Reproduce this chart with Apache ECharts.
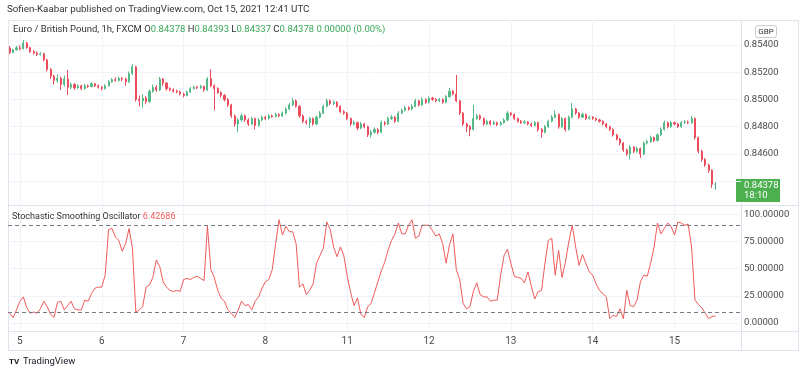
<!DOCTYPE html>
<html>
<head>
<meta charset="utf-8">
<script src="https://cdn.jsdelivr.net/npm/echarts@6.0.0/dist/echarts.min.js"></script>
<style>
html,body{margin:0;padding:0;background:#fff;}
#chart{width:800px;height:377px;}
</style>
</head>
<body>
<div id="chart"></div>
<script>
// EUR/GBP 1h, FXCM  -  bars from Oct 4 21:00 to Oct 15 12:00 UTC
var opens = [
  0.85378,0.85345,0.85365,0.85380,0.85372,0.85415,0.85380,0.85350,0.85340,0.85330,
  0.85335,0.85290,0.85220,0.85170,0.85140,0.85155,0.85110,0.85150,0.85090,0.85110,
  0.85085,0.85100,0.85080,0.85100,0.85095,0.85115,0.85100,0.85090,0.85080,0.85100,
  0.85130,0.85145,0.85140,0.85155,0.85150,0.85130,0.85190,0.85240,0.85000,0.84990,
  0.85010,0.84985,0.85060,0.85090,0.85070,0.85150,0.85120,0.85080,0.85070,0.85060,
  0.85055,0.85040,0.85030,0.85055,0.85080,0.85090,0.85085,0.85095,0.85070,0.85150,
  0.85100,0.85080,0.85050,0.85030,0.85000,0.84960,0.84880,0.84820,0.84850,0.84880,
  0.84850,0.84820,0.84860,0.84810,0.84850,0.84870,0.84860,0.84880,0.84875,0.84890,
  0.84880,0.84900,0.84930,0.84960,0.84990,0.84950,0.84880,0.84840,0.84830,0.84860,
  0.84820,0.84870,0.84900,0.84950,0.84990,0.84970,0.84980,0.84950,0.84910,0.84900,
  0.84860,0.84820,0.84830,0.84790,0.84820,0.84800,0.84740,0.84760,0.84780,0.84760,
  0.84830,0.84820,0.84860,0.84870,0.84840,0.84900,0.84920,0.84940,0.84930,0.84950,
  0.84990,0.84960,0.85000,0.84980,0.85010,0.85000,0.84990,0.85000,0.84980,0.85020,
  0.85060,0.85040,0.84990,0.84900,0.84820,0.84800,0.84780,0.84860,0.84880,0.84860,
  0.84820,0.84840,0.84820,0.84830,0.84815,0.84830,0.84850,0.84900,0.84890,0.84860,
  0.84840,0.84830,0.84835,0.84820,0.84810,0.84830,0.84780,0.84760,0.84800,0.84840,
  0.84870,0.84890,0.84800,0.84860,0.84780,0.84870,0.84930,0.84900,0.84870,0.84890,
  0.84860,0.84870,0.84860,0.84850,0.84840,0.84820,0.84800,0.84780,0.84740,0.84710,
  0.84680,0.84630,0.84600,0.84650,0.84620,0.84640,0.84600,0.84680,0.84690,0.84720,
  0.84700,0.84740,0.84780,0.84830,0.84800,0.84830,0.84820,0.84800,0.84830,0.84835,
  0.84830,0.84860,0.84720,0.84620,0.84560,0.84520,0.84480,0.84378
];
var closes = [
  0.85345,0.85365,0.85380,0.85372,0.85415,0.85380,0.85350,0.85340,0.85330,0.85335,
  0.85290,0.85220,0.85170,0.85140,0.85155,0.85110,0.85150,0.85090,0.85110,0.85085,
  0.85100,0.85080,0.85100,0.85095,0.85115,0.85100,0.85090,0.85080,0.85100,0.85130,
  0.85145,0.85140,0.85155,0.85150,0.85130,0.85190,0.85240,0.85000,0.84990,0.85010,
  0.84985,0.85060,0.85090,0.85070,0.85150,0.85120,0.85080,0.85070,0.85060,0.85055,
  0.85040,0.85030,0.85055,0.85080,0.85090,0.85085,0.85095,0.85070,0.85150,0.85100,
  0.85080,0.85050,0.85030,0.85000,0.84960,0.84880,0.84820,0.84850,0.84880,0.84850,
  0.84820,0.84860,0.84810,0.84850,0.84870,0.84860,0.84880,0.84875,0.84890,0.84880,
  0.84900,0.84930,0.84960,0.84990,0.84950,0.84880,0.84840,0.84830,0.84860,0.84820,
  0.84870,0.84900,0.84950,0.84990,0.84970,0.84980,0.84950,0.84910,0.84900,0.84860,
  0.84820,0.84830,0.84790,0.84820,0.84800,0.84740,0.84760,0.84780,0.84760,0.84830,
  0.84820,0.84860,0.84870,0.84840,0.84900,0.84920,0.84940,0.84930,0.84950,0.84990,
  0.84960,0.85000,0.84980,0.85010,0.85000,0.84990,0.85000,0.84980,0.85020,0.85060,
  0.85040,0.84990,0.84900,0.84820,0.84800,0.84780,0.84860,0.84880,0.84860,0.84820,
  0.84840,0.84820,0.84830,0.84815,0.84830,0.84850,0.84900,0.84890,0.84860,0.84840,
  0.84830,0.84835,0.84820,0.84810,0.84830,0.84780,0.84760,0.84800,0.84840,0.84870,
  0.84890,0.84800,0.84860,0.84780,0.84870,0.84930,0.84900,0.84870,0.84890,0.84860,
  0.84870,0.84860,0.84850,0.84840,0.84820,0.84800,0.84780,0.84740,0.84710,0.84680,
  0.84630,0.84600,0.84650,0.84620,0.84640,0.84600,0.84680,0.84690,0.84720,0.84700,
  0.84740,0.84780,0.84830,0.84800,0.84830,0.84820,0.84800,0.84830,0.84835,0.84830,
  0.84860,0.84720,0.84620,0.84560,0.84520,0.84480,0.84378,0.84378
];
var highs = [
  0.85392,0.85372,0.85392,0.85398,0.85437,0.85422,0.85388,0.85362,0.85352,0.85348,
  0.85342,0.85298,0.85232,0.85182,0.85185,0.85168,0.85175,0.85217,0.85125,0.85120,
  0.85112,0.85108,0.85115,0.85110,0.85128,0.85122,0.85110,0.85098,0.85112,0.85142,
  0.85158,0.85162,0.85168,0.85165,0.85160,0.85205,0.85262,0.85248,0.85030,0.85040,
  0.85025,0.85075,0.85110,0.85105,0.85165,0.85158,0.85128,0.85090,0.85082,0.85072,
  0.85065,0.85050,0.85065,0.85092,0.85102,0.85100,0.85108,0.85102,0.85165,0.85222,
  0.85110,0.85090,0.85060,0.85040,0.85010,0.84968,0.84890,0.84865,0.84895,0.84890,
  0.84862,0.84872,0.84868,0.84862,0.84882,0.84880,0.84892,0.84890,0.84902,0.84900,
  0.84912,0.84942,0.84975,0.85010,0.85000,0.84958,0.84890,0.84852,0.84872,0.84868,
  0.84882,0.84915,0.84962,0.85005,0.85000,0.84992,0.84988,0.84958,0.84922,0.84908,
  0.84868,0.84845,0.84838,0.84835,0.84828,0.84808,0.84775,0.84795,0.84790,0.84845,
  0.84842,0.84875,0.84885,0.84878,0.84915,0.84935,0.84955,0.84950,0.84965,0.85005,
  0.84998,0.85015,0.85008,0.85022,0.85020,0.85010,0.85012,0.85008,0.85032,0.85085,
  0.85070,0.85180,0.84998,0.84908,0.84830,0.84812,0.84960,0.84895,0.84890,0.84868,
  0.84852,0.84848,0.84842,0.84838,0.84842,0.84862,0.84915,0.84908,0.84898,0.84868,
  0.84850,0.84848,0.84842,0.84830,0.84842,0.84838,0.84790,0.84812,0.84852,0.84885,
  0.84920,0.84898,0.84872,0.84868,0.84882,0.84975,0.84938,0.84908,0.84902,0.84898,
  0.84882,0.84878,0.84868,0.84858,0.84848,0.84828,0.84808,0.84788,0.84748,0.84718,
  0.84688,0.84640,0.84665,0.84658,0.84655,0.84648,0.84692,0.84705,0.84735,0.84728,
  0.84752,0.84795,0.84845,0.84838,0.84842,0.84838,0.84828,0.84842,0.84848,0.84845,
  0.84880,0.84868,0.84728,0.84630,0.84570,0.84530,0.84488,0.84393
];
var lows = [
  0.85332,0.85338,0.85358,0.85360,0.85368,0.85372,0.85342,0.85330,0.85318,0.85322,
  0.85280,0.85205,0.85150,0.85110,0.85120,0.85070,0.85095,0.85033,0.85075,0.85070,
  0.85078,0.85068,0.85072,0.85085,0.85088,0.85090,0.85080,0.85065,0.85072,0.85095,
  0.85122,0.85130,0.85132,0.85135,0.85100,0.85122,0.85180,0.84985,0.84950,0.84940,
  0.84965,0.84975,0.85050,0.85055,0.85062,0.85100,0.85065,0.85060,0.85050,0.85045,
  0.85030,0.85015,0.85022,0.85048,0.85072,0.85075,0.85078,0.85055,0.85062,0.85090,
  0.84920,0.85040,0.85015,0.84985,0.84945,0.84865,0.84800,0.84760,0.84838,0.84835,
  0.84805,0.84812,0.84780,0.84800,0.84840,0.84848,0.84852,0.84865,0.84868,0.84870,
  0.84872,0.84892,0.84922,0.84952,0.84940,0.84865,0.84825,0.84815,0.84790,0.84808,
  0.84812,0.84862,0.84892,0.84942,0.84958,0.84960,0.84940,0.84900,0.84888,0.84848,
  0.84805,0.84810,0.84775,0.84782,0.84788,0.84725,0.84720,0.84750,0.84745,0.84752,
  0.84808,0.84812,0.84850,0.84828,0.84832,0.84892,0.84912,0.84918,0.84922,0.84942,
  0.84948,0.84952,0.84968,0.84972,0.84990,0.84978,0.84982,0.84968,0.84972,0.85012,
  0.85030,0.84980,0.84885,0.84805,0.84760,0.84730,0.84772,0.84850,0.84848,0.84808,
  0.84812,0.84810,0.84812,0.84805,0.84808,0.84822,0.84842,0.84878,0.84848,0.84830,
  0.84820,0.84822,0.84810,0.84798,0.84802,0.84765,0.84720,0.84752,0.84792,0.84832,
  0.84862,0.84785,0.84792,0.84765,0.84772,0.84862,0.84888,0.84858,0.84862,0.84850,
  0.84852,0.84850,0.84840,0.84830,0.84810,0.84788,0.84768,0.84728,0.84698,0.84665,
  0.84615,0.84585,0.84560,0.84605,0.84610,0.84570,0.84592,0.84670,0.84682,0.84688,
  0.84692,0.84732,0.84772,0.84788,0.84792,0.84810,0.84790,0.84792,0.84822,0.84820,
  0.84822,0.84705,0.84605,0.84545,0.84505,0.84462,0.84350,0.84337
];
// Stochastic Smoothing Oscillator
var stoch = [
  9,5,12,20,24,14,9,10,9,13,
  20,15,8,5,19,20,12,16,20,13,
  12,12,21,20,27,32,33,33,44,86,
  87,79,76,66,73,87,69,10,12,15,
  33,35,42,58,52,38,33,30,29,30,
  29,40,41,40,42,43,41,39,89,49,
  42,30,23,20,12,9,5,12,20,16,
  17,12,20,24,32,38,40,49,73,95,
  81,89,84,84,73,33,36,26,30,36,
  55,62,69,93,86,70,61,70,62,43,
  28,16,23,8,5,15,18,28,38,48,
  56,67,76,82,92,82,82,90,95,78,
  80,90,90,90,85,80,82,73,55,72,
  82,49,40,18,13,15,29,37,26,24,
  24,20,21,21,44,62,68,55,43,42,
  41,37,47,34,22,29,30,55,76,78,
  44,67,42,56,75,90,70,53,63,55,
  47,44,36,30,27,24,4,7,6,13,
  4,30,16,15,21,38,44,43,55,70,
  92,82,87,92,89,81,93,92,90,91,
  70,21,17,14,9,4,6,6.42686
];
var stochLevels = [90, 10];

var dayLabels = ['5', '6', '7', '8', '11', '12', '13', '14', '15'];
var dayIndex = [3, 27, 51, 75, 99, 123, 147, 171, 195];
var priceGrid = [0.844, 0.846, 0.848, 0.850, 0.852, 0.854];
var priceTicks = [0.846, 0.848, 0.850, 0.852, 0.854];
var stochTicks = [0, 25, 50, 75, 100];
var emptyBars = 7;

var FONT = 'Roboto, "Noto Sans", sans-serif';
var UP = '#53b987', DOWN = '#eb4d5c', LINE = '#e0e3eb', GRIDC = '#f0f3fa';

var total = opens.length + emptyBars;
var cats = [];
for (var i = 0; i < total; i++) cats.push(i);
var candles = opens.map(function (o, k) { return [o, closes[k], lows[k], highs[k]]; });

var chart = echarts.init(document.getElementById('chart'));

function hline(y, x1, x2) {
  return { type: 'line', silent: true, shape: { x1: x1, y1: y + 0.5, x2: x2, y2: y + 0.5 }, style: { stroke: LINE, lineWidth: 1 } };
}
function vline(x, y1, y2) {
  return { type: 'line', silent: true, shape: { x1: x + 0.5, y1: y1, x2: x + 0.5, y2: y2 }, style: { stroke: LINE, lineWidth: 1 } };
}

var option = {
  animation: false,
  backgroundColor: '#fff',
  textStyle: { fontFamily: FONT },
  grid: [
    { left: 8, top: 20, width: 733, height: 185 },
    { left: 8, top: 205, width: 733, height: 126 }
  ],
  xAxis: [
    { type: 'category', gridIndex: 0, data: cats, show: false, boundaryGap: true, position: 'top' },
    { type: 'category', gridIndex: 1, data: cats, show: false, boundaryGap: true, position: 'top' },
    {
      type: 'value', gridIndex: 0, min: -0.5, max: total - 0.5, position: 'bottom',
      axisLine: { show: false }, axisLabel: { show: false },
      axisTick: { show: false, customValues: dayIndex },
      splitLine: { show: true, lineStyle: { color: GRIDC } }
    },
    {
      type: 'value', gridIndex: 1, min: -0.5, max: total - 0.5, position: 'bottom',
      axisLine: { show: false },
      axisTick: { show: false, customValues: dayIndex },
      splitLine: { show: true, lineStyle: { color: GRIDC } },
      axisLabel: {
        customValues: dayIndex, margin: 5, fontSize: 10, color: '#4a4a4a', fontFamily: FONT,
        formatter: function (v) { var k = dayIndex.indexOf(Math.round(v)); return k >= 0 ? dayLabels[k] : ''; }
      }
    }
  ],
  yAxis: [
    {
      type: 'value', gridIndex: 0, position: 'right', min: 0.84226, max: 0.85583,
      axisLine: { show: false },
      axisTick: { show: false, customValues: priceGrid },
      splitLine: { show: true, lineStyle: { color: GRIDC } },
      axisLabel: {
        customValues: priceTicks, margin: 3, fontSize: 9.5, color: '#4a4a4a', fontFamily: FONT,
        formatter: function (v) { return v.toFixed(5); }
      }
    },
    {
      type: 'value', gridIndex: 1, position: 'right', min: -7.4, max: 108.6,
      axisLine: { show: false },
      axisTick: { show: false, customValues: stochTicks },
      splitLine: { show: true, lineStyle: { color: GRIDC } },
      axisLabel: {
        customValues: stochTicks, margin: 3, fontSize: 9.5, color: '#4a4a4a', fontFamily: FONT,
        formatter: function (v) { return v.toFixed(5); }
      }
    }
  ],
  series: [
    {
      type: 'candlestick', xAxisIndex: 0, yAxisIndex: 0, data: candles,
      barWidth: 1.6,
      itemStyle: { color: UP, color0: DOWN, borderColor: UP, borderColor0: DOWN, borderWidth: 1 }
    },
    {
      type: 'line', xAxisIndex: 1, yAxisIndex: 1, data: stoch,
      showSymbol: false, symbol: 'none',
      lineStyle: { color: '#f05a5a', width: 1 },
      markLine: {
        silent: true, symbol: ['none', 'none'], label: { show: false },
        lineStyle: { color: '#787b86', type: [4, 3], width: 1 },
        data: stochLevels.map(function (v) { return { yAxis: v }; })
      }
    }
  ],
  graphic: [
    { type: 'text', left: 7, top: 5, style: { text: 'Sofien-Kaabar published on TradingView.com, Oct 15, 2021 12:41 UTC', fill: '#333', font: '9.75px ' + FONT } },
    hline(20, 8, 799), hline(205, 8, 799), hline(331, 8, 799), hline(350, 8, 799),
    vline(8, 20, 350), vline(741, 20, 350), vline(798, 20, 350),
    {
      type: 'text', left: 13, top: 25, z: 50,
      style: {
        text: '{d|Euro / British Pound, 1h, FXCM} {d|O}{g|0.84378} {d|H}{g|0.84393} {d|L}{g|0.84337} {d|C}{g|0.84378} {g|0.00000 (0.00%)}',
        font: '9.5px ' + FONT,
        rich: { d: { fill: '#333', font: '9.5px ' + FONT }, g: { fill: '#3aa85a', font: '9.5px ' + FONT } }
      }
    },
    {
      type: 'text', left: 12, top: 212, z: 50,
      style: {
        text: '{d|Stochastic Smoothing Oscillator} {r|6.42686}',
        font: '9px ' + FONT,
        rich: { d: { fill: '#333', font: '9px ' + FONT }, r: { fill: '#f05a5a', font: '9px ' + FONT } }
      }
    },
    {
      type: 'group', left: 755, top: 25, z: 50,
      children: [
        { type: 'rect', shape: { x: 0, y: 0, width: 21, height: 12, r: 2 }, style: { fill: '#fff', stroke: '#c8cbd3', lineWidth: 1 } },
        { type: 'text', style: { x: 10.5, y: 6.5, text: 'GBP', align: 'center', verticalAlign: 'middle', fill: '#333', font: '8px ' + FONT } }
      ]
    },
    {
      type: 'group', left: 736, top: 179, z: 60,
      children: [
        { type: 'rect', shape: { x: 0, y: 0, width: 44, height: 23 }, style: { fill: '#4caf50' } },
        { type: 'text', style: { x: 8, y: 6.5, text: '0.84378', verticalAlign: 'middle', fill: '#fff', font: '9.5px ' + FONT } },
        { type: 'text', style: { x: 8, y: 17, text: '18:10', verticalAlign: 'middle', fill: '#fff', font: '9.5px ' + FONT } }
      ]
    },
    { type: 'text', left: 9, top: 358, style: { text: 'TV', fill: '#131722', font: 'bold 8px ' + FONT } },
    { type: 'text', left: 23, top: 357, style: { text: 'TradingView', fill: '#131722', font: '9.5px ' + FONT } }
  ]
};
chart.setOption(option);
</script>
</body>
</html>
